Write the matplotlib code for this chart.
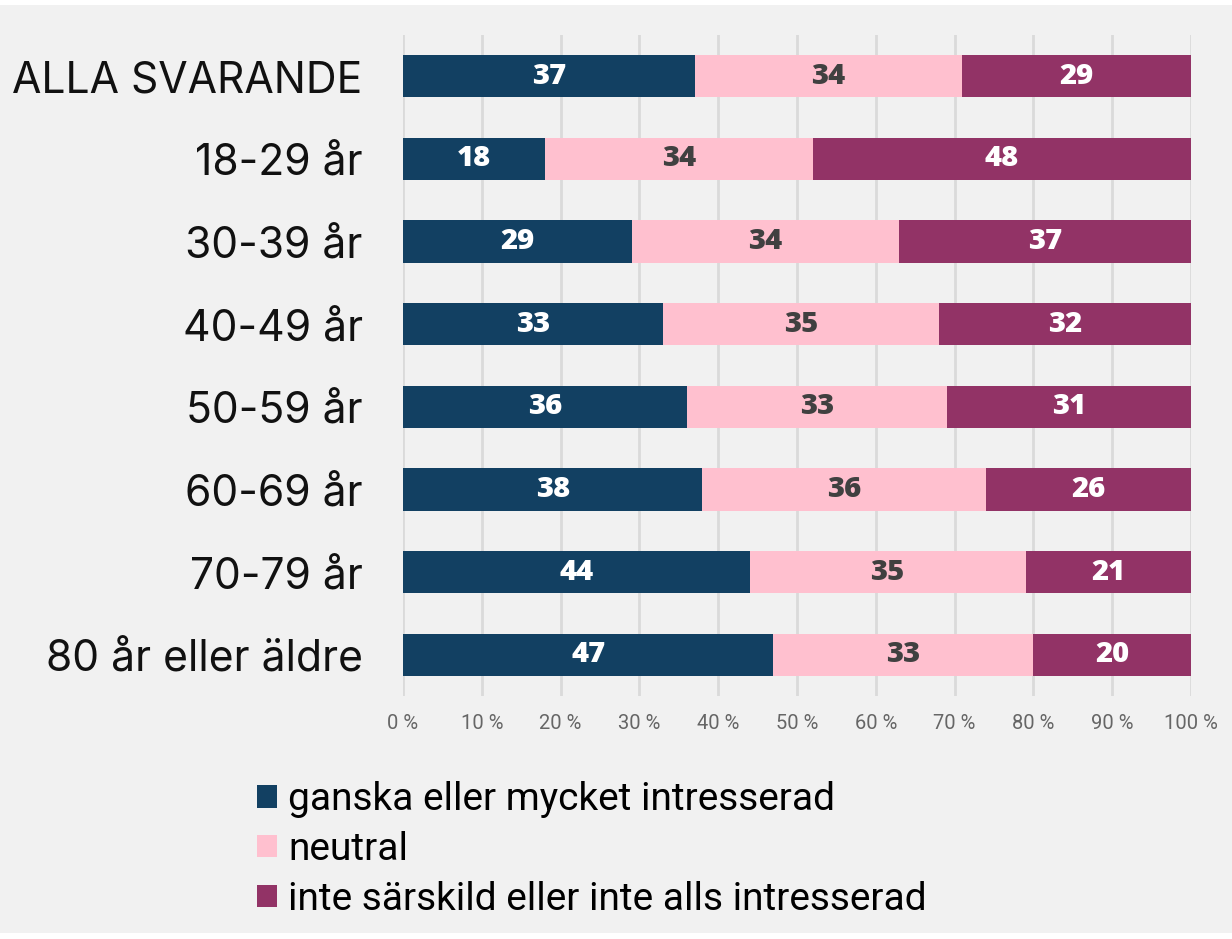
import matplotlib
matplotlib.use("Agg")
import matplotlib.pyplot as plt
from matplotlib.patches import Patch, Rectangle

categories = ["ALLA SVARANDE", "18-29 år", "30-39 år", "40-49 år",
              "50-59 år", "60-69 år", "70-79 år", "80 år eller äldre"]
series_names = ["ganska eller mycket intresserad", "neutral",
                "inte särskild eller inte alls intresserad"]
interested = [37, 18, 29, 33, 36, 38, 44, 47]
neutral = [34, 34, 34, 35, 33, 36, 35, 33]
not_interested = [29, 48, 37, 32, 31, 26, 21, 20]
tick_values = [0, 10, 20, 30, 40, 50, 60, 70, 80, 90, 100]
tick_labels = [f"{v} %" for v in tick_values]

colors = ["#124062", "#ffc0cf", "#923366"]
label_colors = ["white", "#404040", "white"]
bg = "#f1f1f1"

fig = plt.figure(figsize=(12.32, 9.39), dpi=100, facecolor="white")
fig.patches.append(Rectangle((0, 1 - 933 / 939), 1, (933 - 5) / 939,
                             transform=fig.transFigure, facecolor=bg,
                             edgecolor="none", zorder=-10))

ax = fig.add_axes([403 / 1232, 1 - 696 / 939, 788 / 1232, (696 - 35) / 939])
ax.set_facecolor(bg)
ax.patch.set_alpha(0)

y = list(range(len(categories)))
series = [interested, neutral, not_interested]
left = [0] * len(categories)
for vals, col, lc, name in zip(series, colors, label_colors, series_names):
    bars = ax.barh(y, vals, left=left, height=0.51, color=col, label=name, zorder=3)
    ax.bar_label(bars, labels=[str(v) for v in vals], label_type="center",
                 color=lc, fontsize=21, fontweight=800, family="Open Sans")
    left = [l + v for l, v in zip(left, vals)]

ax.set_xlim(0, 100)
ax.set_ylim(len(categories) - 0.5, -0.5)
ax.set_yticks(y)
ax.set_yticklabels(categories, fontsize=30.7, family="Inter", color="#111111")
ax.set_xticks(tick_values)
ax.set_xticklabels(tick_labels, fontsize=14.5, color="#666666", family="Roboto")
ax.tick_params(axis="y", length=0, pad=29)
ax.tick_params(axis="x", length=0, pad=13)
ax.xaxis.grid(True, color="#dadada", linewidth=2, zorder=0)
ax.set_axisbelow(True)
for s in ax.spines.values():
    s.set_visible(False)

handles = [Patch(facecolor=c, edgecolor="none") for c in colors]
leg = fig.legend(handles, series_names, loc="upper left",
                 bbox_to_anchor=(257 / 1232, 1 - 781 / 939), frameon=False,
                 prop={"family": "Roboto", "size": 28}, handlelength=0.52,
                 handleheight=0.52, handletextpad=0.28, labelspacing=0.33,
                 borderaxespad=0, borderpad=0)

fig.savefig("out.png", dpi=100, facecolor=fig.get_facecolor())
